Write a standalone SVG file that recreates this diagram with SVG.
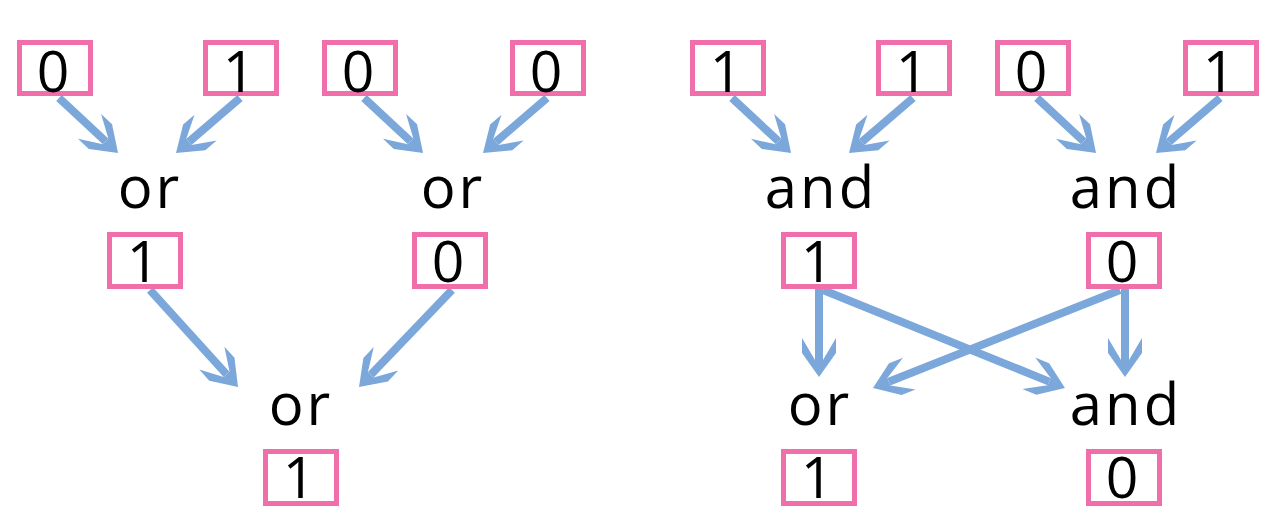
<svg xmlns="http://www.w3.org/2000/svg" width="1278" height="520" viewBox="0 0 1278 520">
<style>
.box{fill:#fff;stroke:#F06EAA;stroke-width:5}
.v{font-family:"Open Sans","Noto Sans",sans-serif;font-size:57px;fill:#000;text-anchor:middle}
.op{font-family:"Open Sans","Noto Sans",sans-serif;font-size:58px;fill:#000;text-anchor:middle;letter-spacing:3px}
.c{fill:none;stroke:#7BA7DA;stroke-width:8;marker-end:url(#ah)}
</style>
<defs>
<marker id="ah" markerUnits="userSpaceOnUse" orient="auto" refX="0" refY="0" markerWidth="80" markerHeight="80" overflow="visible">
<path d="M17,0 L-7,-17 L-22,-17 L0,-4 L0,4 L-22,17 L-7,17 Z" fill="#7BA7DA"/>
</marker>
</defs>
<rect width="1278" height="520" fill="#fff"/>
<g id="connectors">
<path class="c" d="M59,98 L105.6,141.4"/>
<path class="c" d="M240,98 L188.9,141.9"/>
<path class="c" d="M364,98 L410.6,141.4"/>
<path class="c" d="M547,98 L495.9,141.9"/>
<path class="c" d="M732,98 L778.6,141.4"/>
<path class="c" d="M913,98 L861.9,141.9"/>
<path class="c" d="M1037,98 L1083.6,141.4"/>
<path class="c" d="M1220,98 L1168.9,141.9"/>
<path class="c" d="M150,290 L226.6,374.4"/>
<path class="c" d="M452,290 L370.8,374.7"/>
<path class="c" d="M819,289 L819,360"/>
<path class="c" d="M1125,289 L1125,360"/>
<path class="c" d="M823,290 L1049.2,381.6"/>
<path class="c" d="M1120,290 L888.8,381.7"/>
</g>
<g id="in1"><rect class="box" x="19.5" y="42.5" width="71" height="51"/><text class="v" x="53" y="92">0</text></g>
<g id="in2"><rect class="box" x="205.5" y="42.5" width="71" height="51"/><text class="v" x="239" y="92">1</text></g>
<g id="in3"><rect class="box" x="324.5" y="42.5" width="71" height="51"/><text class="v" x="358" y="92">0</text></g>
<g id="in4"><rect class="box" x="512.5" y="42.5" width="71" height="51"/><text class="v" x="546" y="92">0</text></g>
<g id="in5"><rect class="box" x="692.5" y="42.5" width="71" height="51"/><text class="v" x="726" y="92">1</text></g>
<g id="in6"><rect class="box" x="878.5" y="42.5" width="71" height="51"/><text class="v" x="912" y="92">1</text></g>
<g id="in7"><rect class="box" x="997.5" y="42.5" width="71" height="51"/><text class="v" x="1031" y="92">0</text></g>
<g id="in8"><rect class="box" x="1185.5" y="42.5" width="71" height="51"/><text class="v" x="1219" y="92">1</text></g>
<g id="op1"><text class="op" x="150" y="208">or</text></g>
<g id="op2"><text class="op" x="453" y="208">or</text></g>
<g id="op3"><text class="op" x="821" y="208">and</text></g>
<g id="op4"><text class="op" x="1126" y="208">and</text></g>
<g id="mid1"><rect class="box" x="109.5" y="234.5" width="71" height="52"/><text class="v" x="143" y="282">1</text></g>
<g id="mid2"><rect class="box" x="414.5" y="234.5" width="71" height="52"/><text class="v" x="448" y="282">0</text></g>
<g id="mid3"><rect class="box" x="783.5" y="234.5" width="71" height="52"/><text class="v" x="817" y="282">1</text></g>
<g id="mid4"><rect class="box" x="1088.5" y="234.5" width="71" height="52"/><text class="v" x="1122" y="282">0</text></g>
<g id="op5"><text class="op" x="301" y="425">or</text></g>
<g id="op6"><text class="op" x="820" y="425">or</text></g>
<g id="op7"><text class="op" x="1126" y="425">and</text></g>
<g id="out1"><rect class="box" x="265.5" y="451.5" width="71" height="52"/><text class="v" x="299" y="498">1</text></g>
<g id="out2"><rect class="box" x="783.5" y="451.5" width="71" height="52"/><text class="v" x="817" y="498">1</text></g>
<g id="out3"><rect class="box" x="1088.5" y="451.5" width="71" height="52"/><text class="v" x="1122" y="498">0</text></g>
</svg>
